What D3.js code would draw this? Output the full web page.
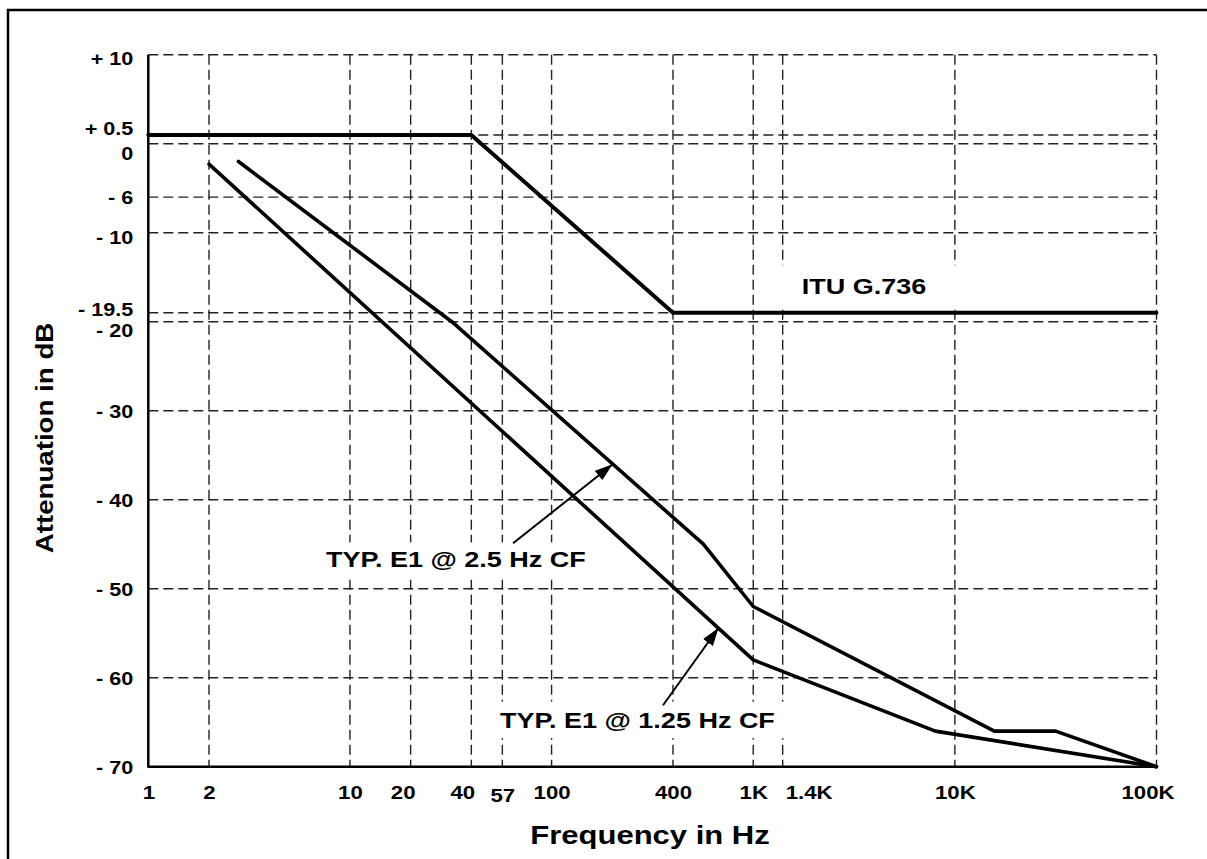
<!DOCTYPE html>
<html>
<head>
<meta charset="utf-8">
<script src="https://cdn.jsdelivr.net/npm/d3@7/dist/d3.min.js"></script>
<style>
  html, body { margin: 0; background: #fff; overflow: hidden; }
  svg { display: block; }
  text { font-family: "Liberation Sans", Arial, sans-serif; font-weight: bold; fill: #000; }
</style>
</head>
<body>
<svg id="chart" width="1207" height="859"></svg>
<script>
// --- data ---
var xTicks = [1, 2, 10, 20, 40, 57, 100, 400, 1000, 1400, 10000, 100000];
var xTickLabels = ['1', '2', '10', '20', '40', '57', '100', '400', '1K', '1.4K', '10K', '100K'];
var xGrid = [2, 10, 20, 40, 57, 100, 400, 1000, 1400, 10000, 100000];

var yTicks = [10, 0.5, 0, -6, -10, -19.5, -20, -30, -40, -50, -60, -70];
var yTickLabels = ['+ 10', '+ 0.5', '0', '- 6', '- 10', '- 19.5', '- 20', '- 30', '- 40', '- 50', '- 60', '- 70'];
var yGrid = [10, 0.5, 0, -6, -10, -19.5, -20, -30, -40, -50, -60];

var ituFreq = [1, 40, 400, 100000];
var ituDb = [0.5, 0.5, -19.5, -19.5];

var e1HiFreq = [2.8, 32, 566, 1000, 15700, 31600, 100000];   // 2.5 Hz CF
var e1HiDb = [-2, -20, -45, -52, -66, -66, -70];

var e1LoFreq = [2, 1000, 8000, 100000];                      // 1.25 Hz CF
var e1LoDb = [-2.3, -58, -66, -70];

var noteText = ['ITU G.736', 'TYP. E1 @ 2.5 Hz CF', 'TYP. E1 @ 1.25 Hz CF'];
var noteFreq = [1740, 7.6, 55.5];
var noteDb = [-17.3, -47.6, -65.6];

var arrowFromFreq = [64.4, 357], arrowFromDb = [-44.9, -63.1];
var arrowToFreq = [199, 668], arrowToDb = [-36.1, -54.5];

// --- layout ---
var plotL = 148.3, plotR = 1156.5, plotT = 54.7, plotB = 766.7;
var sx = 1.2; // the reference type is set wide

// the reference stretches the half-dB lines, hence a piecewise scale
var x = d3.scaleLog().domain([1, 100000]).range([plotL, plotR]);
var y = d3.scaleLinear()
    .domain([10, 0.5, 0, -10, -19.5, -20, -70])
    .range([plotT, 135, 143.7, 232.7, 312.7, 321.7, plotB]);

var yNudge = { '10': 3, '0.5': -7, '0': 9, '-10': 4, '-19.5': -4, '-20': 8 };
var xNudge = { '20': -8, '40': -9, '1400': 26, '100000': -9 };

var svg = d3.select('#chart');

// frame: only its top and left edges fall inside the picture
svg.append('path').attr('d', 'M8,870V10H1215')
    .attr('fill', 'none').attr('stroke', '#000').attr('stroke-width', 2.5);

// grid
var grid = svg.append('g').attr('class', 'grid')
    .attr('stroke', '#222').attr('stroke-width', 1.4).attr('stroke-dasharray', '10,5');

grid.selectAll('.h').data(yGrid).enter().append('line')
    .attr('class', 'h')
    .attr('x1', plotL).attr('x2', plotR)
    .attr('y1', function (d) { return y(d); })
    .attr('y2', function (d) { return y(d); });

grid.selectAll('.v').data(xGrid).enter().append('line')
    .attr('class', 'v')
    .attr('y1', plotT).attr('y2', plotB)
    .attr('x1', function (d) { return x(d); })
    .attr('x2', function (d) { return x(d); });

// axes
var yAxis = d3.axisLeft(y).tickValues(yTicks).tickSize(0)
    .tickFormat(function (d, i) { return yTickLabels[i]; });

var gy = svg.append('g').attr('transform', 'translate(' + plotL + ',0)').call(yAxis);
gy.select('.domain').remove();
gy.selectAll('text')
    .attr('font-size', 18)
    .attr('font-family', null)
    .attr('x', -15 / sx)
    .attr('dy', null)
    .attr('y', function (d) { return 6.5 + (yNudge[d] || 0); })
    .attr('transform', 'scale(' + sx + ',1)');

var xAxis = d3.axisBottom(x).tickValues(xTicks).tickSize(0)
    .tickFormat(function (d, i) { return xTickLabels[i]; });

var gx = svg.append('g').attr('transform', 'translate(0,' + plotB + ')').call(xAxis);
gx.select('.domain').remove();
gx.selectAll('text')
    .attr('font-size', 18.5)
    .attr('font-family', null)
    .attr('dy', null)
    .attr('y', function (d) { return d === 57 ? 35.5 : 32.5; })
    .attr('transform', 'scale(' + sx + ',1)')
    .attr('x', function (d) { return (xNudge[d] || 0) / sx; });

svg.append('line').attr('x1', plotL).attr('x2', plotL).attr('y1', plotT).attr('y2', plotB)
    .attr('stroke', '#000').attr('stroke-width', 2.5);
svg.append('line').attr('x1', plotL - 1).attr('x2', plotR).attr('y1', plotB).attr('y2', plotB)
    .attr('stroke', '#000').attr('stroke-width', 2.5);

// titles
svg.append('g').attr('transform', 'translate(650,844)')
  .append('text').attr('text-anchor', 'middle').attr('font-size', 26.5)
    .attr('transform', 'scale(1.17,1)').text('Frequency in Hz');

svg.append('g').attr('transform', 'translate(53,438) rotate(-90)')
  .append('text').attr('text-anchor', 'middle').attr('font-size', 24.5)
    .attr('transform', 'scale(1.13,1)').text('Attenuation in dB');

// notes with white boxes behind them (they blank the grid)
var padX = [28, 10, 10], padY = [9, 5, 6];
var notes = svg.append('g').attr('class', 'notes');
noteText.forEach(function (t, i) {
    var g = notes.append('g')
        .attr('transform', 'translate(' + x(noteFreq[i]) + ',' + y(noteDb[i]) + ') scale(' + sx + ',1)');
    var box = g.append('rect').attr('fill', '#fff');
    var txt = g.append('text').attr('font-size', 22.5).text(t);
    var b = txt.node().getBBox();
    box.attr('x', b.x - padX[i]).attr('y', b.y - padY[i])
        .attr('width', b.width + 2 * padX[i]).attr('height', b.height + 2 * padY[i]);
});

// curves
var line = d3.line()
    .x(function (d) { return x(d[0]); })
    .y(function (d) { return y(d[1]); });

function pairs(f, v) { return f.map(function (d, i) { return [d, v[i]]; }); }

var curves = svg.append('g').attr('fill', 'none').attr('stroke', '#000')
    .attr('stroke-linejoin', 'round').attr('stroke-linecap', 'round');

curves.append('path').datum(pairs(ituFreq, ituDb)).attr('d', line).attr('stroke-width', 4);
curves.append('path').datum(pairs(e1HiFreq, e1HiDb)).attr('d', line).attr('stroke-width', 3.6);
curves.append('path').datum(pairs(e1LoFreq, e1LoDb)).attr('d', line).attr('stroke-width', 3.6);

// arrows
svg.append('defs').append('marker')
    .attr('id', 'head').attr('markerUnits', 'userSpaceOnUse')
    .attr('markerWidth', 18).attr('markerHeight', 12)
    .attr('refX', 17).attr('refY', 6).attr('orient', 'auto')
  .append('path').attr('d', 'M0,0 L18,6 L0,12 Z').attr('fill', '#000');

svg.append('g').selectAll('line').data(arrowFromFreq).enter().append('line')
    .attr('x1', function (d) { return x(d); })
    .attr('y1', function (d, i) { return y(arrowFromDb[i]); })
    .attr('x2', function (d, i) { return x(arrowToFreq[i]); })
    .attr('y2', function (d, i) { return y(arrowToDb[i]); })
    .attr('stroke', '#000').attr('stroke-width', 2)
    .attr('marker-end', 'url(#head)');
</script>
</body>
</html>
